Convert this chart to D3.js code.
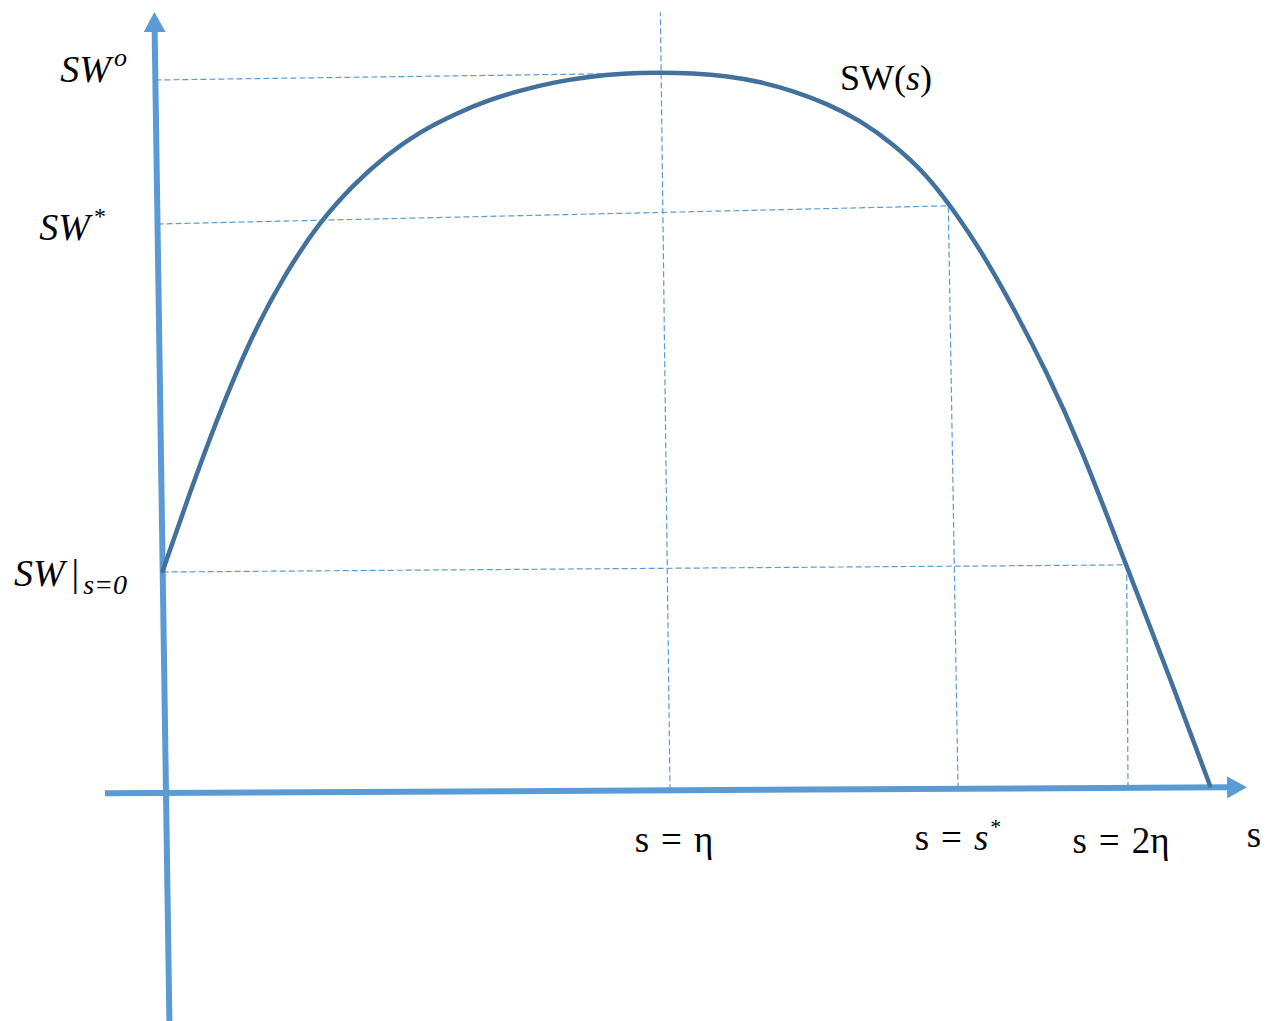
<!DOCTYPE html>
<html>
<head>
<meta charset="utf-8">
<script src="https://cdn.jsdelivr.net/npm/d3@7"></script>
<style>
  html, body { margin: 0; padding: 0; background: #fff; }
  svg { display: block; }
</style>
</head>
<body>
<svg></svg>
<script>
// curve SW(s) (s and SW in arbitrary units, 1 unit = 100px)
var sVals  = [0, 0.26, 0.57, 0.92, 1.27, 1.62, 1.96, 2.30, 2.64, 2.98, 3.32, 3.66, 4.00, 4.34, 4.68, 5.01,
              5.38, 5.72, 6.05, 6.37, 6.71, 7.04, 7.37, 7.70, 7.93, 8.22, 8.54, 8.87, 9.19, 9.64, 9.99, 10.44];
var swVals = [2.22, 2.94, 3.75, 4.56, 5.19, 5.70, 6.07, 6.37, 6.60, 6.77, 6.91, 7.01, 7.09, 7.14, 7.17, 7.18,
              7.17, 7.14, 7.08, 6.99, 6.86, 6.69, 6.45, 6.14, 5.83, 5.40, 4.82, 4.16, 3.44, 2.21, 1.28, 0.02];

// dashed guide lines [s, SW] from -> to
var guideFrom = [[0, 7.13], [0, 5.69], [0, 2.21], [5.04, 0], [7.92, 0], [9.62, 0]];
var guideTo   = [[4.7, 7.17], [7.91, 5.83], [9.64, 2.23], [5.06, 7.78], [7.91, 5.83], [9.64, 2.22]];

// axis extents
var xAxisExtent = [-0.61, 10.81];
var yAxisExtent = [-2.3, 7.81];

// tick positions on the s axis
var sTicks = [5.05, 7.92, 9.63];

const iWidth = 1271, iHeight = 1021;
const origin = {x: 166, y: 793};
const FONT = 'Liberation Serif, serif';

var canvas = d3.select('svg')
               .attr('width', iWidth)
               .attr('height', iHeight);

var defs = canvas.append('defs');
defs.append('marker')
    .attr('id', 'arrow')
    .attr('viewBox', '0 0 20 22')
    .attr('refX', 1).attr('refY', 11)
    .attr('markerWidth', 20).attr('markerHeight', 22)
    .attr('markerUnits', 'userSpaceOnUse')
    .attr('orient', 'auto')
  .append('path')
    .attr('d', 'M0,0 L20,11 L0,22 Z')
    .attr('fill', '#5B9BD5');

const xScale = d3.scaleLinear().domain([0, 10]).range([0, 1000]);
const yScale = d3.scaleLinear().domain([0, 10]).range([0, -1000]);

// the hand drawn figure is a bit skewed
var plot = canvas.append('g')
    .attr('transform', `translate(${origin.x},${origin.y}) matrix(1,-0.0053,0.0149,1,0,0)`);

// guides
plot.selectAll('line.guide')
    .data(d3.range(guideFrom.length))
    .enter().append('line')
      .attr('class', 'guide')
      .attr('x1', i => xScale(guideFrom[i][0]))
      .attr('y1', i => yScale(guideFrom[i][1]))
      .attr('x2', i => xScale(guideTo[i][0]))
      .attr('y2', i => yScale(guideTo[i][1]))
      .attr('stroke', '#5B9BD5')
      .attr('stroke-width', 1.2)
      .attr('stroke-dasharray', '6,3');

// axes
plot.append('line')
    .attr('x1', xScale(xAxisExtent[0])).attr('y1', 0)
    .attr('x2', xScale(xAxisExtent[1]) - 19).attr('y2', 0)
    .attr('stroke', '#5B9BD5').attr('stroke-width', 6)
    .attr('marker-end', 'url(#arrow)');

plot.append('line')
    .attr('x1', 0).attr('y1', yScale(yAxisExtent[0]))
    .attr('x2', 0).attr('y2', yScale(yAxisExtent[1]) + 19)
    .attr('stroke', '#5B9BD5').attr('stroke-width', 6)
    .attr('marker-end', 'url(#arrow)');

// curve
var line = d3.line()
    .x(i => xScale(sVals[i]))
    .y(i => yScale(swVals[i]))
    .curve(d3.curveBasis);

plot.append('path')
    .attr('d', line(d3.range(sVals.length)))
    .attr('fill', 'none')
    .attr('stroke', '#41719C')
    .attr('stroke-width', 4.5)
    .attr('stroke-linecap', 'round');

// labels
function label(x, y, parts, size, anchor) {
  var t = canvas.append('text')
      .attr('x', x).attr('y', y)
      .attr('font-family', FONT)
      .attr('font-size', size)
      .attr('fill', '#000')
      .attr('text-anchor', anchor || 'start');
  parts.forEach(p => {
    var ts = t.append('tspan').text(p.t);
    if (p.i) ts.attr('font-style', 'italic');
    if (p.sup) ts.attr('font-size', p.sup).attr('dy', -16);
    if (p.sub) ts.attr('font-size', p.sub).attr('dy', 8);
    if (p.dx) ts.attr('dx', p.dx);
  });
  return t;
}

label(127, 82, [{t: 'SW', i: 1}, {t: 'o', i: 1, sup: 26, dx: 3}], 38, 'end');
label(106, 240, [{t: 'SW', i: 1}, {t: '*', sup: 24, dx: 4}], 38, 'end');
label(127, 586, [{t: 'SW', i: 1}, {t: '|', dx: 7}, {t: 's=0', i: 1, sub: 28, dx: 4}], 38, 'end');
label(840, 90, [{t: 'SW('}, {t: 's', i: 1}, {t: ')'}], 36);

var tx = sTicks.map(d => origin.x + xScale(d));
label(tx[0] + 3, 852, [{t: 's'}, {t: '=', dx: 12}, {t: 'η', dx: 12}], 37, 'middle');
label(tx[1], 850, [{t: 's'}, {t: '=', dx: 12}, {t: 's', i: 1, dx: 12}, {t: '*', sup: 22, dx: 2}], 37, 'middle');
label(tx[2] - 8, 853, [{t: 's'}, {t: '=', dx: 12}, {t: '2η', dx: 12}], 37, 'middle');
label(origin.x + xScale(xAxisExtent[1]) + 7, 847, [{t: 's'}], 37, 'middle');
</script>
</body>
</html>
